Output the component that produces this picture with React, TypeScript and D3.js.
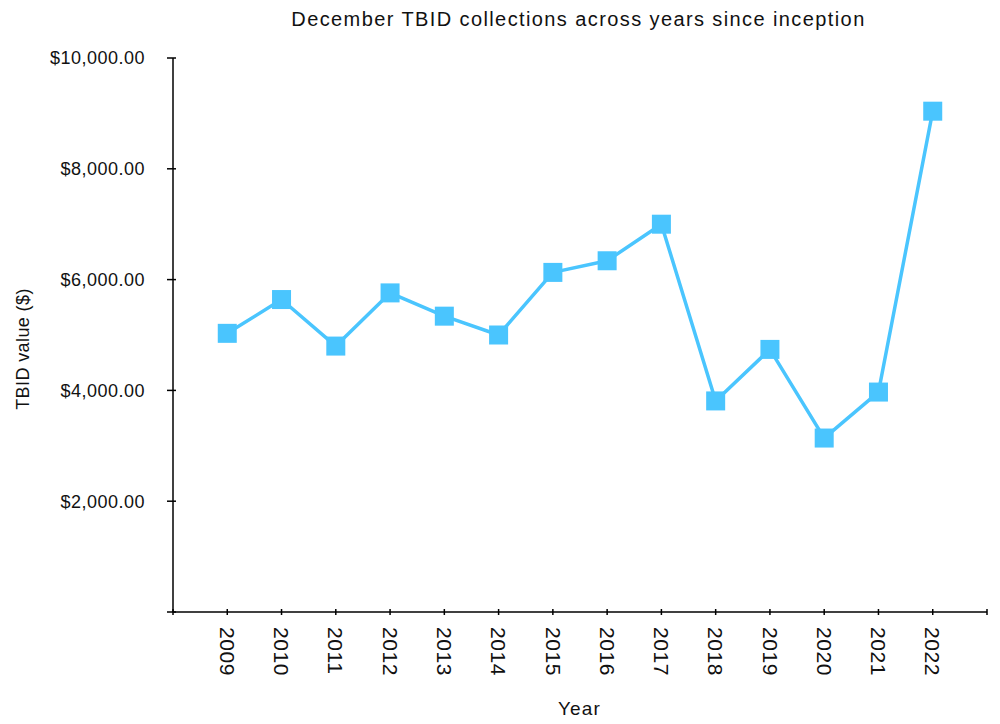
import React, { useEffect, useRef } from "react";
import * as d3 from "d3";

const years = ["2009","2010","2011","2012","2013","2014","2015","2016","2017","2018","2019","2020","2021","2022"];
const values = [5030, 5640, 4800, 5760, 5340, 5000, 6130, 6340, 7000, 3810, 4740, 3140, 3970, 9040];
const yTicks = [0, 2000, 4000, 6000, 8000, 10000];

const W = 1000, H = 724;
const L = 173, R = 987, T = 58, B = 612;
const COLOR = "#4AC5FE";
const FONT = "Liberation Sans, Arial, Helvetica, sans-serif";

export default function App() {
  const ref = useRef<SVGSVGElement>(null);
  useEffect(() => {
    const svg = d3.select(ref.current);
    svg.selectAll("*").remove();
    const domain = ["_s", ...years, "_e"];
    const x = d3.scalePoint<string>().domain(domain).range([L, R]);
    const y = d3.scaleLinear().domain([0, 10000]).range([B, T]);
    const fmt = (v: number) => "$" + d3.format(",.2f")(v);

    svg.append("line").attr("x1", L).attr("x2", L).attr("y1", T).attr("y2", B)
      .attr("stroke", "#000").attr("stroke-width", 1.5);
    svg.append("line").attr("x1", L).attr("x2", R).attr("y1", B).attr("y2", B)
      .attr("stroke", "#000").attr("stroke-width", 1.5);

    yTicks.forEach(t => {
      svg.append("line").attr("x1", L - 6).attr("x2", L + 3).attr("y1", y(t)).attr("y2", y(t))
        .attr("stroke", "#000").attr("stroke-width", 1.5);
      if (t > 0) {
        svg.append("text").attr("x", L - 28).attr("y", y(t)).attr("dy", "0.35em")
          .attr("text-anchor", "end").attr("font-family", FONT).attr("font-size", 18)
          .attr("letter-spacing", 0.5).attr("fill", "#111").text(fmt(t));
      }
    });

    domain.forEach(d => {
      const xx = x(d)!;
      svg.append("line").attr("x1", xx).attr("x2", xx).attr("y1", B - 3).attr("y2", B + 3)
        .attr("stroke", "#000").attr("stroke-width", 1.5);
      if (!d.startsWith("_")) {
        svg.append("text").attr("transform", `translate(${xx},${B + 15}) rotate(90)`)
          .attr("dy", "0.35em").attr("text-anchor", "start").attr("font-family", FONT)
          .attr("font-size", 21).attr("letter-spacing", 0.6).attr("fill", "#111").text(d);
      }
    });

    const line = d3.line<number>().x((_, i) => x(years[i])!).y(v => y(v));
    svg.append("path").datum(values).attr("d", line).attr("fill", "none")
      .attr("stroke", COLOR).attr("stroke-width", 3.5).attr("stroke-linejoin", "round");

    const s = 19;
    svg.selectAll("rect.m").data(values).enter().append("rect")
      .attr("x", (_, i) => x(years[i])! - s / 2).attr("y", v => y(v) - s / 2)
      .attr("width", s).attr("height", s).attr("fill", COLOR);

    svg.append("text").attr("x", 578.5).attr("y", 26).attr("text-anchor", "middle")
      .attr("font-family", FONT).attr("font-size", 20).attr("letter-spacing", 1.4).attr("fill", "#111")
      .text("December TBID collections across years since inception");
    svg.append("text").attr("x", 579.5).attr("y", 715).attr("text-anchor", "middle")
      .attr("font-family", FONT).attr("font-size", 19).attr("letter-spacing", 1.2).attr("fill", "#111").text("Year");
    svg.append("text").attr("transform", `translate(29,349) rotate(-90)`)
      .attr("text-anchor", "middle")
      .attr("font-family", FONT).attr("font-size", 18).attr("letter-spacing", 0.4).attr("fill", "#111").text("TBID value ($)");
  }, []);
  return (
    <svg ref={ref} width={W} height={H} style={{ position: "absolute", left: 0, top: 0, background: "#fff" }} />
  );
}
